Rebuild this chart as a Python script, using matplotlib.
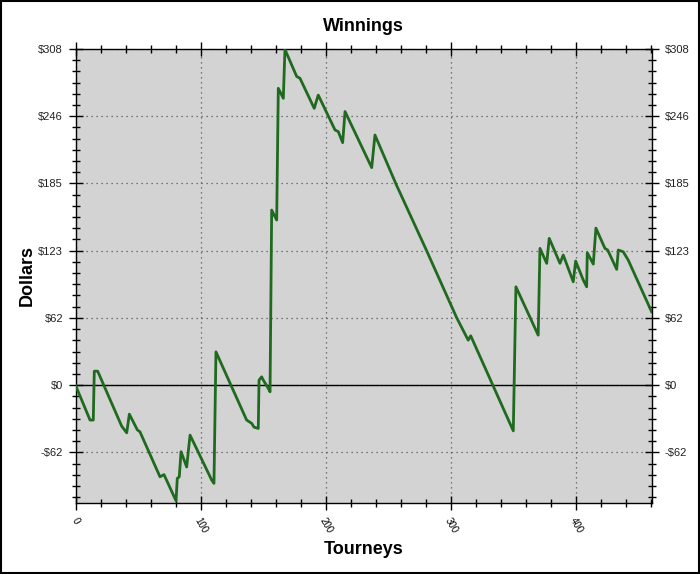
import matplotlib
matplotlib.use("Agg")
import matplotlib.pyplot as plt
from matplotlib.ticker import MultipleLocator, FixedLocator
from matplotlib.patches import Rectangle

# Data
tourneys = [0, 11.6, 14.2, 15, 17.7, 36.9, 40.9, 43, 49.4, 51.5, 67.5, 70.7, 80.3,
            81.3, 82.9, 84.3, 88.8, 91.5, 108.8, 110.6, 112.2, 136.7, 140.7, 142.6,
            146.0, 146.6, 148.7, 150, 154, 155.4, 156.7, 160.7, 162, 166, 167.3,
            176.7, 179.3, 190.7, 193.9, 207.3, 209.9, 213.4, 215.3, 236.6, 239.2, 256,
            280.5, 304.5, 313.7, 315.7, 333.7, 349.7, 351.8, 369.6, 371, 376.4, 378.4,
            387, 389.6, 397.6, 399.5, 405.6, 408.3, 408.8, 413.6, 415.7, 422.9, 425.1,
            432.3, 433.6, 437.5, 441.5, 460.2]
dollars = [0, -32, -32, 12.8, 12.8, -37.6, -43.7, -26.6, -41, -42.8, -84, -82, -106,
           -85.5, -84, -61, -75, -45.8, -87, -90, 30.5, -32, -35, -38.5,
           -39.7, 4.6, 7.6, 4.6, -3, -6.1, 160.4, 151.3, 272, 262.8, 307.6,
           282.8, 281.2, 253.6, 265.8, 233.8, 232.3, 222.2, 250.7, 199.3, 229.2, 184.3,
           123.1, 61.7, 41.2, 45.2, -0.9, -41.9, 90.1, 45.8, 125.3, 111.6, 134.5,
           111.6, 119.2, 94.7, 113.7, 96.3, 90.1, 121.3, 110.9, 143.9, 125.3, 123.8,
           106.1, 123.8, 122.2, 114.6, 67.2]

y_ticks = [-61.6, 0, 61.6, 123.2, 184.8, 246.4, 308]
y_labels = ["-$62", "$0", "$62", "$123", "$185", "$246", "$308"]
x_ticks = [0, 100, 200, 300, 400]
x_labels = ["0", "100", "200", "300", "400"]

plt.rcParams['font.family'] = ['Liberation Sans', 'DejaVu Sans']

fig = plt.figure(figsize=(7, 5.74), dpi=100)
fig.patch.set_facecolor('white')
ax = fig.add_axes([75.5 / 700, 1 - 503 / 574, (652 - 75.5) / 700, (503 - 49) / 574])
ax.set_facecolor('#d3d3d3')

ax.set_xlim(0, 460.5)
ax.set_ylim(-108, 308)

ax.xaxis.set_major_locator(FixedLocator(x_ticks))
ax.set_xticklabels(x_labels, rotation=-60, fontsize=7, ha='center', va='top',
                   rotation_mode='default')
ax.xaxis.set_minor_locator(MultipleLocator(20))
ax.yaxis.set_major_locator(FixedLocator(y_ticks))
ax.set_yticklabels(y_labels, fontsize=8, color='#222222')
ax.yaxis.set_minor_locator(MultipleLocator(61.6 / 6))

ax.tick_params(which='both', top=True, right=True, labelright=True,
               direction='inout', color='black', width=1)
ax.tick_params(which='major', length=10, pad=4)
ax.tick_params(which='minor', length=6)

ax.grid(True, which='major', color='#555555', linestyle=(0, (1, 3)), linewidth=0.9)
ax.axhline(0, color='black', linewidth=1, zorder=2)

ax.plot(tourneys, dollars, color='#1f6a1f', linewidth=2, zorder=3, clip_on=True)

for s in ax.spines.values():
    s.set_color('black')
    s.set_linewidth(1)

ax.set_title("Winnings", fontsize=13, fontweight='bold', pad=13)
ax.set_xlabel("Tourneys", fontsize=13, fontweight='bold', labelpad=5)
ax.set_ylabel("Dollars", fontsize=13, fontweight='bold', labelpad=2)

fig.patches.append(Rectangle((0.001, 0.001), 0.997, 0.997, transform=fig.transFigure,
                             fill=False, edgecolor='black', linewidth=1.5))

fig.savefig("out.png", dpi=100)
